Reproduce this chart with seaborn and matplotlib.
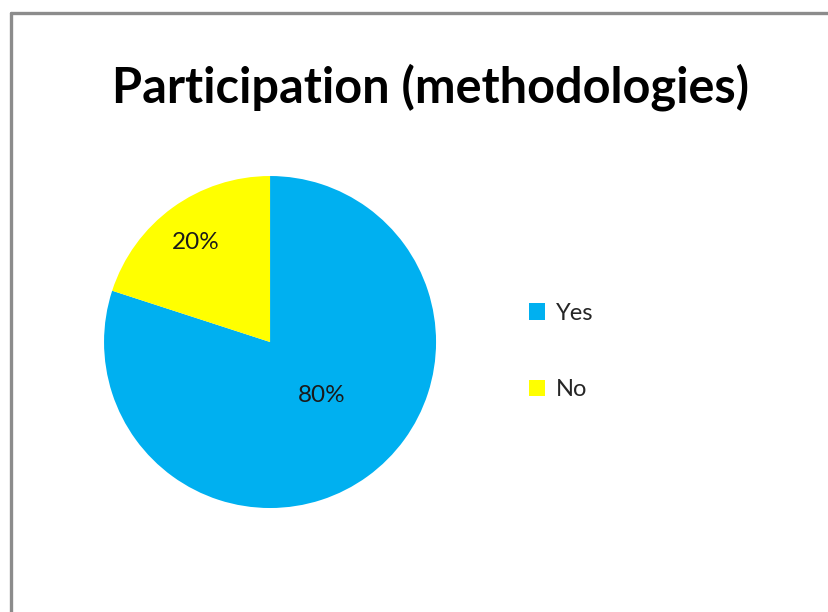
import numpy as np
import matplotlib
matplotlib.use("Agg")
import matplotlib.pyplot as plt
import seaborn as sns
from matplotlib.patches import Patch
from matplotlib.lines import Line2D

# data
categories = ["Yes", "No"]
shares = [80, 20]
colors = ["#00B0F0", "#FFFF00"]
title = "Participation (methodologies)"

sns.set_style("white")
plt.rcParams['font.family'] = ['Lato', 'DejaVu Sans']

fig = plt.figure(figsize=(8.29, 6.12), dpi=100)

# gray frame like the excel chart border (right/bottom edges cut off)
fig.add_artist(Line2D([0.0127, 0.0127], [0.0, 0.9788], color="#8c8c8c", lw=2.4))
fig.add_artist(Line2D([0.0127, 1.0], [0.9788, 0.9788], color="#8c8c8c", lw=2.4))

fig.text(0.519, 0.858, title, ha="center", va="center", fontsize=35,
         fontweight="bold", color="black")

ax = fig.add_axes([0.1255, 0.1699, 0.4005, 0.5425])
wedges, texts, autotexts = ax.pie(shares, colors=colors, startangle=90,
                                  counterclock=False, autopct="%d%%",
                                  pctdistance=0.5, radius=1,
                                  wedgeprops={"linewidth": 0, "edgecolor": "none"},
                                  textprops={"fontsize": 17.5, "color": "#1a1a1a"})
# excel "best fit" label spots
label_pos = [(0.31, -0.32), (-0.45, 0.60)]
for t, p in zip(autotexts, label_pos):
    t.set_position(p)
ax.set_xlim(-1, 1)
ax.set_ylim(-1, 1)
ax.set_aspect("equal")
ax.axis("off")

handles = [Patch(facecolor=c, edgecolor="none") for c in colors]
fig.legend(handles, categories, loc="center left", bbox_to_anchor=(0.612, 0.426),
           frameon=False, fontsize=17, labelspacing=2.35, handlelength=0.7,
           handleheight=0.7, handletextpad=0.45)

fig.savefig("out.png", dpi=100)
